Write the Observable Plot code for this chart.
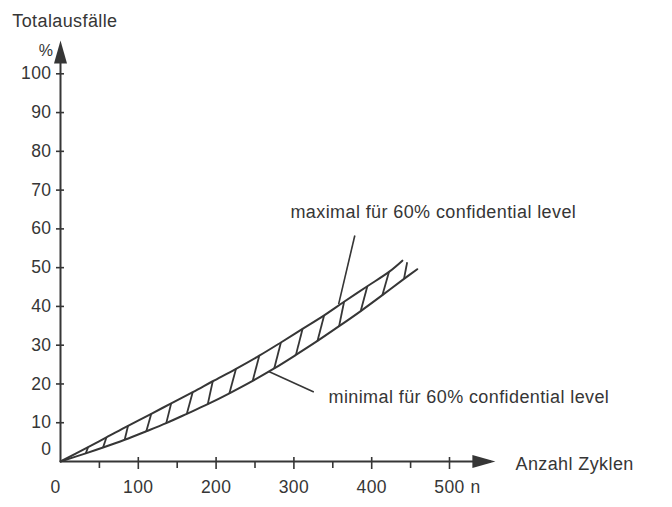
<!DOCTYPE html>
<html><head><meta charset="utf-8">
<script src="https://cdn.jsdelivr.net/npm/d3@7"></script>
<script src="https://cdn.jsdelivr.net/npm/@observablehq/plot@0.6"></script>
<style>body{margin:0;background:#fff} svg{overflow:visible;display:block}</style>
</head><body><div id="chart"></div>
<script>
// Upper curve: "maximal für 60% confidential level"
const maxX = [0, 35.5, 59, 86.8, 116.7, 142.3, 170, 195.7, 225.6, 255.5, 283.3, 311.1, 338.9, 364.5, 394.4, 422.2, 439.4];
const maxY = [0, 3.7, 6.2, 9.2, 12.3, 15.0, 17.9, 20.7, 23.9, 27.3, 30.7, 34.2, 37.7, 41.2, 45.2, 48.9, 51.8];
// Lower curve: "minimal für 60% confidential level"
const minX = [0, 32.5, 54.7, 82.5, 110.3, 135.9, 162.4, 189.3, 217.1, 247, 274.7, 302.6, 330.3, 358.1, 385.9, 413.7, 441.5, 458.5];
const minY = [0, 2.1, 3.6, 5.6, 7.8, 9.9, 12.3, 14.8, 17.6, 20.8, 24.0, 27.5, 31.1, 34.9, 38.8, 42.9, 47.1, 49.6];
// Hatch strokes between the two curves (top end on upper curve, bottom end on lower curve)
const hatchTopX = [35.5, 59, 86.8, 116.7, 142.3, 170, 195.7, 225.6, 255.5, 283.3, 311.1, 338.9, 364.5, 394.4, 422.2, 445.6];
const hatchTopY = [3.7, 6.2, 9.2, 12.3, 15.0, 17.9, 20.7, 23.9, 27.3, 30.7, 34.2, 37.7, 41.2, 45.2, 48.9, 51.4];
const hatchBotX = [32.5, 54.7, 82.5, 110.3, 135.9, 162.4, 189.3, 217.1, 247, 274.7, 302.6, 330.3, 358.1, 385.9, 413.7, 441.5];
const hatchBotY = [2.1, 3.6, 5.6, 7.8, 9.9, 12.3, 14.8, 17.6, 20.8, 24.0, 27.5, 31.1, 34.9, 38.8, 42.9, 47.1];
// Tick values and labels
const xMajorTicks = [100, 200, 300, 400, 500];
const xMinorTicks = [50, 150, 250, 350, 450];
const xTickLabels = ["100", "200", "300", "400", "500"];
const yTicks = [10, 20, 30, 40, 50, 60, 70, 80, 90, 100];
const yTickLabels = ["10", "20", "30", "40", "50", "60", "70", "80", "90", "100"];
// Annotations (label text, anchor in data units)
const annoText = ["maximal für 60% confidential level", "minimal für 60% confidential level", "Anzahl Zyklen", "Totalausfälle"];
const annoX = [295.6, 344.5, 584.8, -62];
const annoY = [64.3, 16.5, -0.8, 113.5];
const unitY = "%";
const leaderX1 = [378.3, 267.7];
const leaderY1 = [58.3, 23.2];
const leaderX2 = [357.5, 325.6];
const leaderY2 = [40.6, 17.9];
const axisEndX = 559; // cycles, arrow tip
const axisEndY = 108.6; // percent, arrow tip

const ink = "#363636";
const font = "'Liberation Sans', Arial, Helvetica, sans-serif";
const arrowHead = {draw(ctx) { ctx.moveTo(0, 0); ctx.lineTo(6.5, 23); ctx.lineTo(-6.5, 23); ctx.closePath(); }};

const pts = (xs, ys) => xs.map((x, i) => ({x, y: ys[i]}));
const hatches = hatchTopX.map((x, i) => ({x1: hatchBotX[i], y1: hatchBotY[i], x2: x, y2: hatchTopY[i]}));
const leaders = leaderX1.map((x, i) => ({x1: x, y1: leaderY1[i], x2: leaderX2[i], y2: leaderY2[i]}));
const annos = annoText.map((t, i) => ({t, x: annoX[i], y: annoY[i]}));

const chart = Plot.plot({
  width: 672, height: 507,
  marginLeft: 60, marginRight: 223, marginTop: 73.3, marginBottom: 46,
  x: {domain: [0, 500], axis: null},
  y: {domain: [0, 100], axis: null},
  style: {fontFamily: font, fontSize: "18px", color: ink, background: "#fff", letterSpacing: "0.4px"},
  marks: [
    Plot.ruleY([0], {x1: 0, x2: axisEndX - 5, stroke: ink, strokeWidth: 2}),
    Plot.ruleX([0], {y1: 0, y2: axisEndY - 2, stroke: ink, strokeWidth: 2}),
    Plot.ruleX(xMajorTicks, {x: d => d, y1: 0, y2: 0, insetTop: -4, insetBottom: -8, stroke: ink, strokeWidth: 1.6}),
    Plot.ruleX(xMinorTicks, {x: d => d, y1: 0, y2: 0, insetTop: 0, insetBottom: -7, stroke: ink, strokeWidth: 1.6}),
    Plot.ruleY(yTicks, {y: d => d, x1: 0, x2: 0, insetLeft: -4, insetRight: -4, stroke: ink, strokeWidth: 1.6}),
    Plot.dot([{x: 0, y: axisEndY}], {x: "x", y: "y", symbol: arrowHead, fill: ink, stroke: "none"}),
    Plot.dot([{x: axisEndX, y: 0}], {x: "x", y: "y", symbol: arrowHead, fill: ink, stroke: "none", rotate: 90}),
    Plot.line(pts(maxX, maxY), {x: "x", y: "y", curve: "catmull-rom", stroke: ink, strokeWidth: 2}),
    Plot.line(pts(minX, minY), {x: "x", y: "y", curve: "catmull-rom", stroke: ink, strokeWidth: 2}),
    Plot.link(hatches, {x1: "x1", y1: "y1", x2: "x2", y2: "y2", stroke: ink, strokeWidth: 1.8}),
    Plot.link(leaders, {x1: "x1", y1: "y1", x2: "x2", y2: "y2", stroke: ink, strokeWidth: 1.6}),
    Plot.text(yTicks, {x: 0, y: d => d, text: (d, i) => yTickLabels[i], textAnchor: "end", dx: -9, fill: ink, fontSize: 17.5}),
    Plot.text(["0"], {x: 0, y: 0, text: d => d, textAnchor: "end", dx: -9, dy: -12, fill: ink, fontSize: 17.5}),
    Plot.text(xMajorTicks, {x: d => d, y: 0, text: (d, i) => xTickLabels[i], dy: 26, fill: ink, fontSize: 17.5}),
    Plot.text(["0"], {x: 0, y: 0, text: d => d, dx: -5, dy: 26, fill: ink, fontSize: 17.5}),
    Plot.text(["n"], {x: 500, y: 0, text: d => d, textAnchor: "start", dx: 21, dy: 26, fill: ink, fontSize: 17.5}),
    Plot.text([unitY], {x: 0, y: 105.9, text: d => d, textAnchor: "end", dx: -7, fill: ink, fontSize: 16}),
    Plot.text(annos, {x: "x", y: "y", text: "t", textAnchor: "start", fill: ink, fontSize: 18})
  ]
});
document.getElementById("chart").appendChild(chart);
</script></body></html>
